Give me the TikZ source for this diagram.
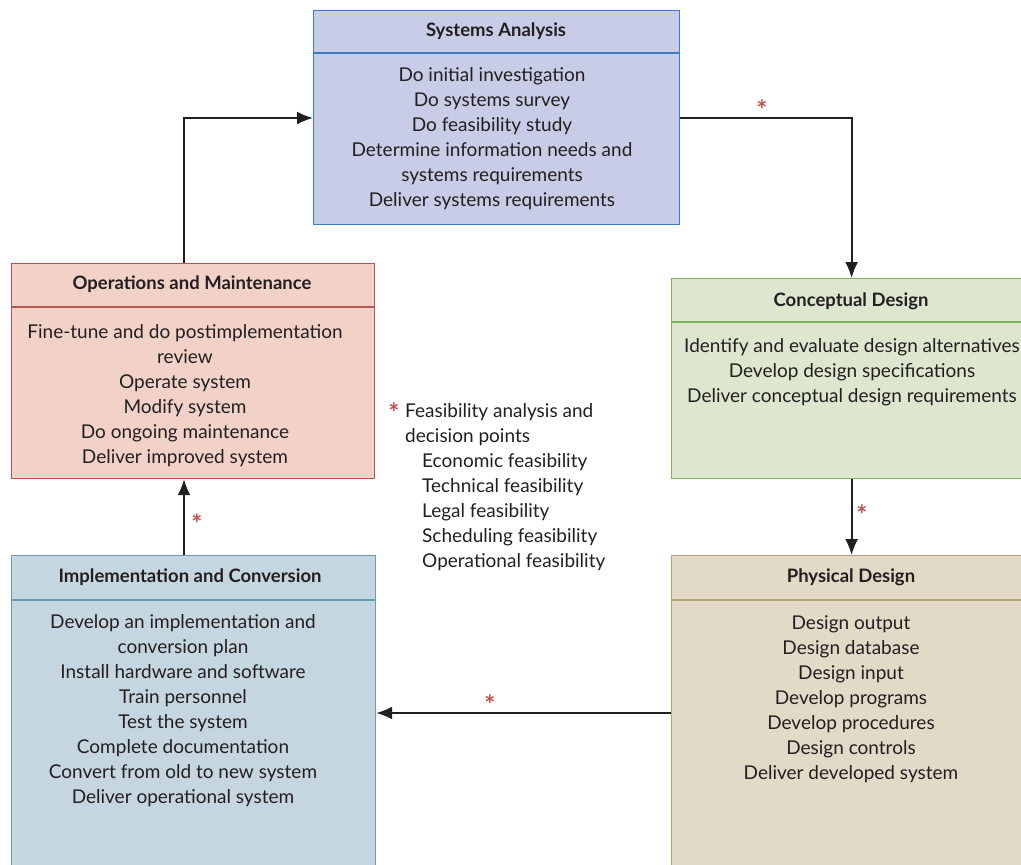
\documentclass[tikz,border=0pt]{standalone}
\usepackage{fontspec}
\setmainfont{Lato}
\usetikzlibrary{arrows.meta}

\definecolor{saFill}{HTML}{C8CCE6}\definecolor{saLine}{HTML}{3D7CC4}
\definecolor{omFill}{HTML}{F2D2C8}\definecolor{omLine}{HTML}{B85450}
\definecolor{cdFill}{HTML}{DDE7CF}\definecolor{cdLine}{HTML}{7DB35A}
\definecolor{pdFill}{HTML}{E2D9C7}\definecolor{pdLine}{HTML}{B3A47E}
\definecolor{icFill}{HTML}{C5D6E1}\definecolor{icLine}{HTML}{6B9CB5}
\definecolor{flowInk}{HTML}{231F20}
\definecolor{starRed}{HTML}{C0504D}

\tikzset{
  phase/.style={rectangle, line width=1.2pt, anchor=north west, inner sep=0pt},
  headtext/.style={font=\bfseries\fontsize{18.5}{20}\selectfont, text=flowInk, inner sep=0pt},
  bodytext/.style={font=\fontsize{19}{25}\selectfont, align=center, text=flowInk, inner sep=0pt, anchor=base},
  flowline/.style={draw=flowInk, line width=1.8pt, -{Latex[length=16pt,width=13pt]}},
  starmark/.style={text=starRed, font=\bfseries\fontsize{26}{26}\selectfont, inner sep=0pt},
}

\begin{document}
\begin{tikzpicture}[x=1pt,y=-1pt]
\useasboundingbox (0,0) rectangle (1021,865);
\clip (0,0) rectangle (1021,865);

% phase boxes
\node[phase, draw=saLine, fill=saFill, minimum width=366pt, minimum height=214pt] (sa) at (313,10) {};
\node[phase, draw=omLine, fill=omFill, minimum width=363pt, minimum height=215pt] (om) at (11,263) {};
\node[phase, draw=cdLine, fill=cdFill, minimum width=360pt, minimum height=200pt] (cd) at (671,278) {};
\node[phase, draw=pdLine, fill=pdFill, minimum width=360pt, minimum height=325pt] (pd) at (671,555) {};
\node[phase, draw=icLine, fill=icFill, minimum width=364pt, minimum height=325pt] (ic) at (11,555) {};

% header dividers
\draw[saLine, line width=1.2pt] (313,53) -- (679,53);
\draw[omLine, line width=1.2pt] (11,307) -- (374,307);
\draw[cdLine, line width=1.2pt] (671,322) -- (1031,322);
\draw[pdLine, line width=1.2pt] (671,600) -- (1031,600);
\draw[icLine, line width=1.2pt] (11,600) -- (375,600);

% headings
\node[headtext] (saHead) at (496,31) {Systems Analysis};
\node[headtext] (omHead) at (192,284) {Operations and Maintenance};
\node[headtext] (cdHead) at (851,301) {Conceptual Design};
\node[headtext] (pdHead) at (851,577) {Physical Design};
\node[headtext] (icHead) at (190,577) {Implementation and Conversion};

% activities (placed by the baseline of the last line)
\node[bodytext] (saBody) at (492,206) {Do initial investigation\\Do systems survey\\Do feasibility study\\Determine information needs and\\systems requirements\\Deliver systems requirements};
\node[bodytext] (omBody) at (185,463) {Fine-tune and do postimplementation\\review\\Operate system\\Modify system\\Do ongoing maintenance\\Deliver improved system};
\node[bodytext] (cdBody) at (852,402) {Identify and evaluate design alternatives\\Develop design specifications\\Deliver conceptual design requirements};
\node[bodytext] (pdBody) at (851,779) {Design output\\Design database\\Design input\\Develop programs\\Develop procedures\\Design controls\\Deliver developed system};
\node[bodytext] (icBody) at (183,803) {Develop an implementation and\\conversion plan\\Install hardware and software\\Train personnel\\Test the system\\Complete documentation\\Convert from old to new system\\Deliver operational system};

% legend
\node[starmark] (legStar) at (394,413) {*};
\node[font=\fontsize{19}{25}\selectfont, align=left, text=flowInk, inner sep=0pt, anchor=base west] (legend) at (405,567)
  {Feasibility analysis and\\decision points\\
   \hspace*{17pt}Economic feasibility\\
   \hspace*{17pt}Technical feasibility\\
   \hspace*{17pt}Legal feasibility\\
   \hspace*{17pt}Scheduling feasibility\\
   \hspace*{17pt}Operational feasibility};

% connectors
\coordinate (upBend) at (184,118);
\coordinate (lowLink) at (520,713);
\draw[flowline] (om.north -| upBend) |- (sa.west |- upBend);
\draw[flowline] (sa.east |- upBend) -| (cd.north);
\draw[flowline] (cd.south) -- (pd.north);
\draw[flowline] (pd.west |- lowLink) -- (ic.east |- lowLink);
\draw[flowline] (ic.north -| upBend) -- (om.south -| upBend);

% decision point marks
\node[starmark] (s1) at (762,110) {*};
\node[starmark] (s2) at (862,515) {*};
\node[starmark] (s3) at (490,705) {*};
\node[starmark] (s4) at (197,524) {*};
\end{tikzpicture}
\end{document}
